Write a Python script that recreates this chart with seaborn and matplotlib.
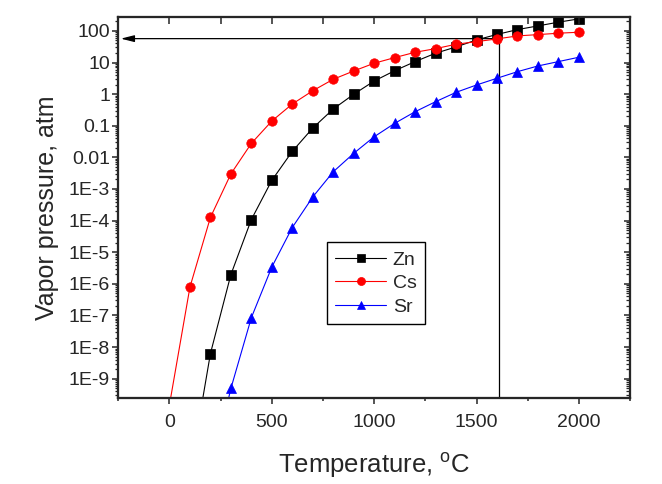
import numpy as np
import matplotlib
matplotlib.use('Agg')
import matplotlib.pyplot as plt
from matplotlib.ticker import FixedLocator, FixedFormatter, LogLocator, NullFormatter
import seaborn as sns

# ---------------- data ----------------
temps_zn = [100, 200, 300, 400, 500, 600, 700, 800, 900, 1000, 1100, 1200,
            1300, 1400, 1500, 1600, 1700, 1800, 1900, 2000]
p_zn = [1.0e-12, 6.2e-9, 1.96e-6, 1.08e-4, 1.87e-3, 0.0155, 0.0846, 0.338, 0.99,
        2.6, 5.5, 10.7, 19.7, 31.1, 51.9, 77.4, 110, 144, 189, 240]

temps_cs = [0, 100, 200, 300, 400, 500, 600, 700, 800, 900, 1000, 1100, 1200,
            1300, 1400, 1500, 1600, 1700, 1800, 1900, 2000]
p_cs = [1.5e-10, 7.9e-7, 1.26e-4, 3.0e-3, 0.0277, 0.141, 0.487, 1.28, 2.95, 5.4,
        9.5, 14.3, 21.1, 27.5, 37.9, 45.8, 55.8, 69.5, 76.4, 84.6, 90.9]

temps_sr = [200, 300, 400, 500, 600, 700, 800, 900, 1000, 1100, 1200,
            1300, 1400, 1500, 1600, 1700, 1800, 1900, 2000]
p_sr = [8.5e-13, 4.9e-10, 8.5e-8, 3.4e-6, 6.05e-5, 5.6e-4, 3.5e-3, 0.0134, 0.0449,
        0.119, 0.278, 0.577, 1.14, 1.95, 3.18, 5.14, 7.79, 10.7, 14.7]

series_names = ['Zn', 'Cs', 'Sr']

x_tick_values = [0, 500, 1000, 1500, 2000]
x_tick_labels = ['0', '500', '1000', '1500', '2000']
y_tick_values = [1e2, 1e1, 1e0, 1e-1, 1e-2, 1e-3, 1e-4, 1e-5, 1e-6, 1e-7, 1e-8, 1e-9]
y_tick_labels = ['100', '10', '1', '0.1', '0.01', '1E-3', '1E-4', '1E-5', '1E-6',
                 '1E-7', '1E-8', '1E-9']

# guide lines (reading of the operating point)
guide_T = 1610
guide_P = 57
arrow_tip_T = -238

# ---------------- style ----------------
sns.set_style('ticks')
plt.rcParams['font.family'] = ['Liberation Sans', 'DejaVu Sans']
plt.rcParams['mathtext.default'] = 'regular'

fig = plt.figure(figsize=(6.62, 4.84), dpi=100)
ax = fig.add_axes([0.1787, 0.1771, 0.7730, 0.7872])

colors = {'Zn': 'black', 'Cs': '#ff0000', 'Sr': '#0000ff'}
markers = {'Zn': 's', 'Cs': 'o', 'Sr': '^'}
data = {'Zn': (temps_zn, p_zn), 'Cs': (temps_cs, p_cs), 'Sr': (temps_sr, p_sr)}

for name in series_names:
    t, p = data[name]
    sns.lineplot(x=t, y=p, ax=ax, color=colors[name], marker=markers[name],
                 markersize=6.8, markeredgecolor=colors[name], markeredgewidth=0.5,
                 linewidth=0.8, label=name, zorder=3)

ax.set_yscale('log')
ax.set_xlim(-250, 2250)
ax.set_ylim(2.4e-10, 270)

# guide lines
ax.plot([guide_T, guide_T], [1e-12, guide_P], color='black', lw=0.9, zorder=2)
ax.annotate('', xy=(arrow_tip_T, guide_P), xytext=(guide_T, guide_P),
            arrowprops=dict(arrowstyle='-|>,head_length=0.8,head_width=0.2',
                            mutation_scale=10, color='black', lw=0.9,
                            shrinkA=0, shrinkB=0), zorder=2)

# ticks
ax.xaxis.set_major_locator(FixedLocator(x_tick_values))
ax.xaxis.set_major_formatter(FixedFormatter(x_tick_labels))
ax.xaxis.set_minor_locator(FixedLocator(np.arange(-250, 2251, 500)))
ax.yaxis.set_major_locator(FixedLocator(y_tick_values))
ax.yaxis.set_major_formatter(FixedFormatter(y_tick_labels))
ax.yaxis.set_minor_locator(LogLocator(base=10, subs=np.arange(2, 10), numticks=100))
ax.yaxis.set_minor_formatter(NullFormatter())

ax.tick_params(axis='x', which='major', direction='out', length=4.5, width=1.1,
               labelsize=14, pad=7, top=False)
ax.tick_params(axis='x', which='minor', direction='out', length=2.5, width=1.1, top=False)
ax.tick_params(axis='y', which='major', direction='out', length=4.5, width=1.1,
               labelsize=14, pad=1.5, right=False)
ax.tick_params(axis='y', which='minor', direction='out', length=2.5, width=0.9, right=False)

for s in ax.spines.values():
    s.set_linewidth(1.5)
    s.set_color('black')
    s.set_visible(True)

# mirrored inward ticks on top and right
axt = ax.twiny()
axt.set_xlim(ax.get_xlim())
axt.xaxis.set_major_locator(FixedLocator(np.arange(-250, 2251, 250)))
axt.tick_params(axis='x', which='major', direction='in', length=5, width=1.1,
                labeltop=False, top=True, bottom=False)
axt.tick_params(axis='x', which='minor', top=False, bottom=False)
axr = ax.twinx()
axr.set_yscale('log')
axr.set_ylim(ax.get_ylim())
axr.yaxis.set_major_locator(FixedLocator(y_tick_values))
axr.yaxis.set_minor_locator(LogLocator(base=10, subs=np.arange(2, 10), numticks=100))
axr.tick_params(axis='y', which='major', direction='in', length=4.5, width=1.1,
                labelright=False, right=True, left=False)
axr.tick_params(axis='y', which='minor', direction='in', length=3, width=0.9,
                labelright=False, right=True, left=False)
for a in (axt, axr):
    for s in a.spines.values():
        s.set_linewidth(1.5)

ax.set_xlabel('Temperature, $^{o}$C', fontsize=18.5, labelpad=14)
ax.set_ylabel('Vapor pressure, atm', fontsize=18, labelpad=7)

leg = ax.legend(loc='upper left', bbox_to_anchor=(0.407, 0.409), borderaxespad=0,
                frameon=True, fancybox=False, edgecolor='black', framealpha=1,
                fontsize=14, handlelength=2.6, handletextpad=0.35,
                labelspacing=0.3, borderpad=0.45, markerscale=0.85)
leg.get_frame().set_linewidth(1.0)
leg.set_zorder(10)

fig.savefig('out.png', dpi=100)
